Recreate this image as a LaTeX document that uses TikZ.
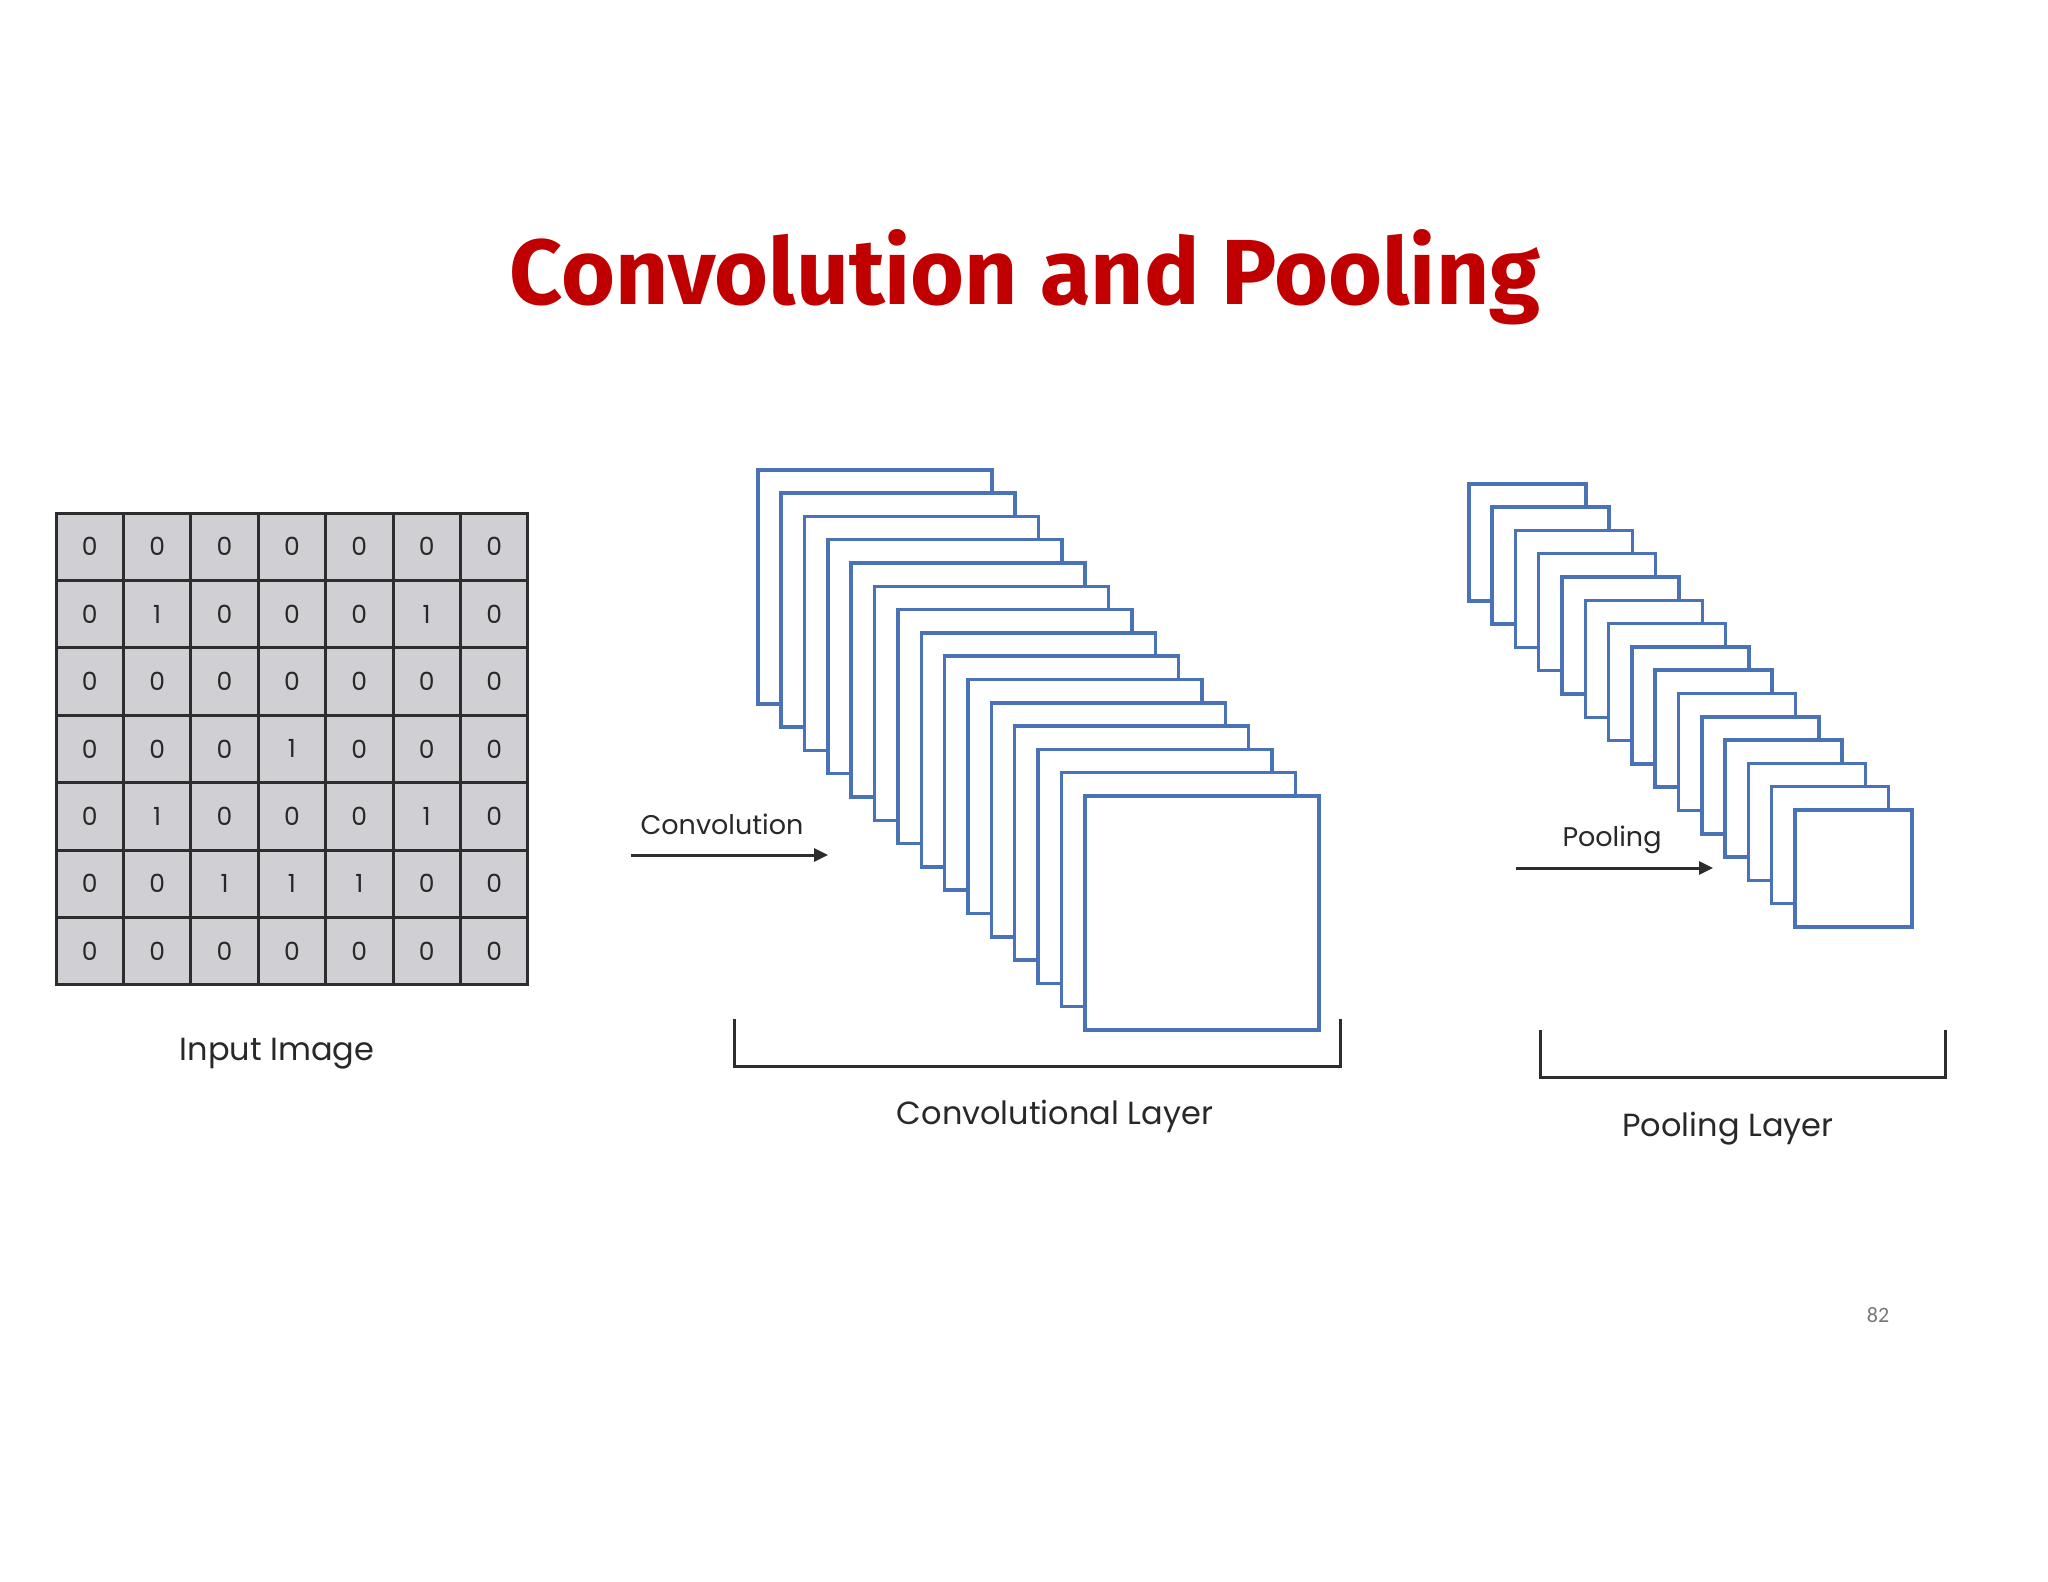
\documentclass[tikz,border=0pt]{standalone}
\usepackage{fontspec}
\setmainfont{Poppins}
\newfontfamily\titlefont{Fira Sans}
\newfontfamily\pagefont{Carlito}
\usetikzlibrary{arrows.meta}

\definecolor{titlered}{RGB}{192,0,0}
\definecolor{cellgray}{RGB}{208,207,211}
\definecolor{gridline}{RGB}{45,45,45}
\definecolor{mapblue}{RGB}{74,114,184}
\definecolor{labeltext}{RGB}{40,40,40}
\definecolor{pagegray}{RGB}{120,120,120}

\begin{document}
\begin{tikzpicture}[x=1pt,y=-1pt,
  cell/.style={draw=gridline,line width=3pt,fill=cellgray,minimum size=67.4pt,
    inner sep=0pt,text=labeltext,font=\fontsize{25}{25}\selectfont},
  map/.style={draw=mapblue,line width=3.5pt,fill=white,inner sep=0pt,anchor=north west},
  lbl/.style={text=labeltext,anchor=base,inner sep=0pt},
  bracket/.style={draw=gridline,line width=3pt},
  flow/.style={draw=gridline,line width=3pt,-{Triangle[length=14pt,width=13pt]}}]

\useasboundingbox (0,0) rectangle (2048,1582);

% title
\node[text=titlered,anchor=base,inner sep=0pt,
  font=\titlefont\bfseries\fontsize{92.5}{100}\selectfont] (title) at (1025,304) {Convolution and Pooling};

% input image
\foreach \row [count=\r from 0] in {{0,0,0,0,0,0,0},{0,1,0,0,0,1,0},{0,0,0,0,0,0,0},
    {0,0,0,1,0,0,0},{0,1,0,0,0,1,0},{0,0,1,1,1,0,0},{0,0,0,0,0,0,0}}
  \foreach \v [count=\c from 0] in \row
    \node[cell] (c\r\c) at (89.7+67.4*\c,546.7+67.4*\r) {\v};

\node[lbl,font=\fontsize{32}{32}\selectfont] (inlabel) at (277,1060) {Input Image};

% convolution
\coordinate (convA) at (631,855);
\coordinate (convB) at (828,855);
\draw[flow] (convA) -- (convB);
\node[lbl,font=\fontsize{27}{27}\selectfont] (convtext) at (722,834) {Convolution};

\foreach \i in {0,...,14}
  \node[map,minimum size=234pt] (conv\i) at (756+23.36*\i,468+23.3*\i) {};

\coordinate (cb1) at (734,1019);
\coordinate (cb2) at (734,1066);
\coordinate (cb3) at (1340,1066);
\coordinate (cb4) at (1340,1019);
\draw[bracket] (cb1) -- (cb2) -- (cb3) -- (cb4);
\node[lbl,font=\fontsize{32}{32}\selectfont] (convlayer) at (1055,1124) {Convolutional Layer};

% pooling
\coordinate (poolA) at (1516,868);
\coordinate (poolB) at (1713,868);
\draw[flow] (poolA) -- (poolB);
\node[lbl,font=\fontsize{27}{27}\selectfont] (pooltext) at (1612,846) {Pooling};

\foreach \i in {0,...,14}
  \node[map,minimum size=117pt] (pool\i) at (1467+23.3*\i,482+23.3*\i) {};

\coordinate (pb1) at (1540,1030);
\coordinate (pb2) at (1540,1077);
\coordinate (pb3) at (1945,1077);
\coordinate (pb4) at (1945,1030);
\draw[bracket] (pb1) -- (pb2) -- (pb3) -- (pb4);
\node[lbl,font=\fontsize{32}{32}\selectfont] (poollayer) at (1728,1136) {Pooling Layer};

\node[anchor=base,inner sep=0pt,text=pagegray,font=\pagefont\fontsize{22}{22}\selectfont] (pagenum) at (1878,1322) {82};

\end{tikzpicture}
\end{document}
